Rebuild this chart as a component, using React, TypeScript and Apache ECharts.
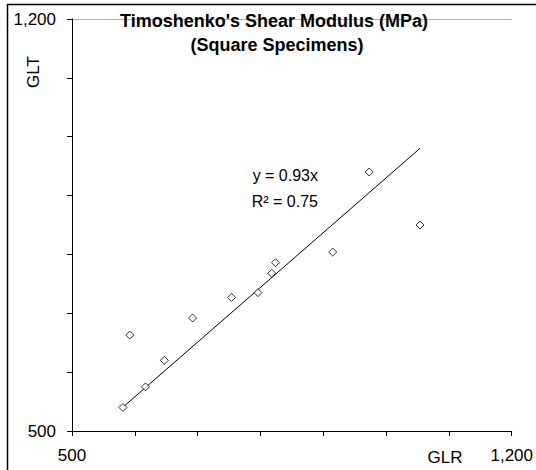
import React, { useEffect, useRef } from "react";
import * as echarts from "echarts";

const glr = [581, 592, 617, 647, 692, 754, 796, 818, 824, 915, 973, 1054];
const glt = [540, 663, 575, 620, 692, 727, 735, 768, 786, 804, 940, 850];
const slope = 0.93;
const r2 = 0.75;
const titleLines = ["Timoshenko's Shear Modulus (MPa)", "(Square Specimens)"];
const xName = "GLR";
const yName = "GLT";
const axisMin = 500;
const axisMax = 1200;
const axisStep = 100;

const FONT = "'Liberation Sans', Arial, sans-serif";

export default function App() {
  const ref = useRef<HTMLDivElement>(null);
  useEffect(() => {
    document.body.style.margin = "0";
    const chart = echarts.init(ref.current!, null, { renderer: "svg" });
    const pts = glr.map((x, i) => [x, glt[i]]);
    const xMin = Math.min(...glr);
    const xMax = Math.max(...glr);
    const trend = [
      [xMin, slope * xMin],
      [xMax, slope * xMax],
    ];
    const nLines = (axisMax - axisMin) / axisStep + 1;
    const splitColors = Array.from({ length: nLines }, (_, i) =>
      i === nLines - 1 ? "#b4b4b4" : "rgba(0,0,0,0)"
    );
    const fmt = (v: number) =>
      v === axisMin || v === axisMax ? v.toLocaleString("en-US") : "";
    chart.setOption({
      animation: false,
      backgroundColor: "#fff",
      grid: { left: 72, right: 20, top: 19, bottom: 39, containLabel: false },
      xAxis: {
        type: "value",
        min: axisMin,
        max: axisMax,
        interval: axisStep,
        axisLine: { lineStyle: { color: "#000", width: 1 } },
        axisTick: { show: true, length: 5, lineStyle: { color: "#000" } },
        axisLabel: {
          formatter: fmt,
          color: "#000",
          fontSize: 17,
          fontFamily: FONT,
          margin: 16,
          showMinLabel: true,
          showMaxLabel: true,
        },
        splitLine: { show: false },
      },
      yAxis: {
        type: "value",
        min: axisMin,
        max: axisMax,
        interval: axisStep,
        axisLine: { show: true, lineStyle: { color: "#000", width: 1 } },
        axisTick: { show: true, length: 5, lineStyle: { color: "#000" } },
        axisLabel: {
          formatter: fmt,
          color: "#000",
          fontSize: 17,
          fontFamily: FONT,
          margin: 16,
          showMinLabel: true,
          showMaxLabel: true,
        },
        splitLine: { show: true, lineStyle: { color: splitColors, width: 1 } },
      },
      series: [
        {
          type: "line",
          data: trend,
          symbol: "none",
          lineStyle: { color: "#000", width: 1 },
          silent: true,
          z: 2,
        },
        {
          type: "scatter",
          data: pts,
          symbol: "diamond",
          symbolSize: 8,
          itemStyle: { color: "#fff", borderColor: "#000", borderWidth: 1 },
          z: 3,
        },
      ],
      graphic: [
        {
          type: "rect",
          shape: { x: 7.5, y: 4.5, width: 700, height: 700 },
          style: { fill: "none", stroke: "#000", lineWidth: 1.5 },
          silent: true,
          z: 100,
        },
        {
          type: "text",
          x: 274,
          y: 21,
          style: {
            text: titleLines[0],
            fontSize: 18,
            fontWeight: "bold",
            fontFamily: FONT,
            fill: "#000",
            textAlign: "center",
            textVerticalAlign: "middle",
          },
          z: 50,
        },
        {
          type: "text",
          x: 277,
          y: 45,
          style: {
            text: titleLines[1],
            fontSize: 18,
            fontWeight: "bold",
            fontFamily: FONT,
            fill: "#000",
            textAlign: "center",
            textVerticalAlign: "middle",
          },
          z: 50,
        },
        {
          type: "text",
          x: 318,
          y: 175,
          style: {
            text: "y = " + slope.toFixed(2) + "x",
            fontSize: 16,
            fontFamily: FONT,
            fill: "#000",
            textAlign: "right",
            textVerticalAlign: "middle",
          },
          z: 50,
        },
        {
          type: "text",
          x: 318,
          y: 201,
          style: {
            text: "R² = " + r2.toFixed(2),
            fontSize: 16,
            fontFamily: FONT,
            fill: "#000",
            textAlign: "right",
            textVerticalAlign: "middle",
          },
          z: 50,
        },
        {
          type: "text",
          x: 445,
          y: 457,
          style: {
            text: xName,
            fontSize: 17,
            fontFamily: FONT,
            fill: "#000",
            textAlign: "center",
            textVerticalAlign: "middle",
          },
          z: 50,
        },
        {
          type: "text",
          x: 33,
          y: 72,
          rotation: Math.PI / 2,
          style: {
            text: yName,
            fontSize: 17,
            fontFamily: FONT,
            fill: "#000",
            textAlign: "center",
            textVerticalAlign: "middle",
          },
          z: 50,
        },
      ],
    });
    return () => chart.dispose();
  }, []);
  return (
    <div
      ref={ref}
      style={{ position: "fixed", left: 0, top: 0, width: 536, height: 470 }}
    />
  );
}
